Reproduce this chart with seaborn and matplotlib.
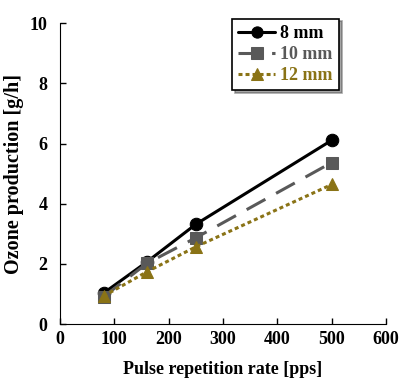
import pandas as pd
import matplotlib
matplotlib.use("Agg")
import matplotlib.pyplot as plt
import seaborn as sns

# pulse repetition rate [pps]
rate = [80, 160, 250, 500]
# ozone production [g/h] per gap length
ozone_8mm = [1.03, 2.07, 3.32, 6.11]
ozone_10mm = [0.91, 2.02, 2.87, 5.37]
ozone_12mm = [0.93, 1.74, 2.57, 4.64]
labels = ["8 mm", "10 mm", "12 mm"]

colors = ["#000000", "#595959", "#8a7316"]
markers = ["o", "s", "^"]
dashes = [None, (7, 4), (1.3, 1.0)]

sns.set_style("ticks")
plt.rcParams["font.family"] = ["Liberation Serif", "DejaVu Serif"]
plt.rcParams["font.weight"] = "bold"
for key in ["text.color", "axes.labelcolor", "xtick.color", "ytick.color", "axes.edgecolor"]:
    plt.rcParams[key] = "black"

df = pd.DataFrame({
    "rate": rate * 3,
    "ozone": ozone_8mm + ozone_10mm + ozone_12mm,
    "gap": [labels[0]] * 4 + [labels[1]] * 4 + [labels[2]] * 4,
})

fig = plt.figure(figsize=(4.03, 3.80), dpi=100)
ax = fig.add_axes([0.149, 0.147, 0.809, 0.792])

for i, lab in enumerate(labels):
    sub = df[df["gap"] == lab]
    sns.lineplot(data=sub, x="rate", y="ozone", ax=ax, color=colors[i],
                 marker=markers[i], markersize=9, linewidth=2.2,
                 markeredgecolor=colors[i], label=lab)
    if dashes[i] is not None:
        ax.get_lines()[-1].set_dashes(dashes[i])

ax.set_xlim(0, 600)
ax.set_ylim(0, 10)
ax.set_xticks(range(0, 601, 100))
ax.set_yticks(range(0, 11, 2))
ax.tick_params(direction="in", length=4, labelsize=13, width=1)
ax.tick_params(axis="x", pad=5)
ax.tick_params(axis="y", pad=9)
for t in ax.get_xticklabels() + ax.get_yticklabels():
    t.set_fontweight("bold")
ax.set_xlabel("Pulse repetition rate [pps]", fontsize=13, fontweight="bold", labelpad=9)
ax.set_ylabel("Ozone production [g/h]", fontsize=14.5, fontweight="bold", labelpad=4)
sns.despine(ax=ax)

leg = ax.legend(loc="upper right", bbox_to_anchor=(0.855, 1.015), frameon=True,
                fancybox=False, shadow=True, edgecolor="black",
                prop={"weight": "bold", "size": 13}, handlelength=2.0,
                borderpad=0.35, labelspacing=0.22, handletextpad=0.3,
                borderaxespad=0.0, markerscale=0.9)
leg.get_frame().set_linewidth(1.2)
for txt, c in zip(leg.get_texts(), colors):
    txt.set_color(c)

fig.savefig("out.png", dpi=100)
